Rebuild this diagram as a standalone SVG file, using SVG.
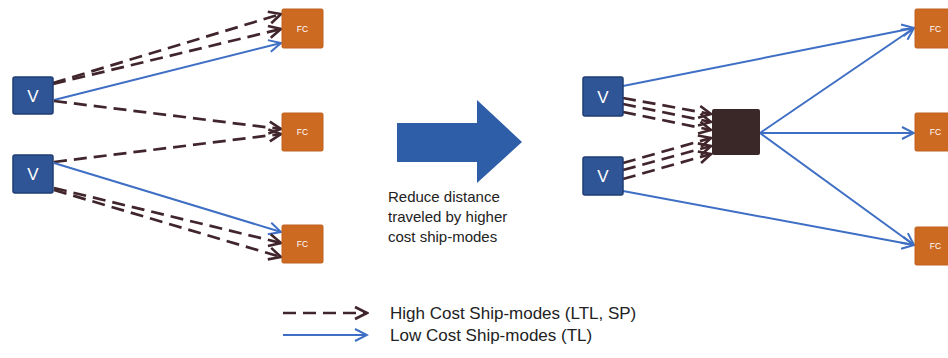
<svg xmlns="http://www.w3.org/2000/svg" width="948" height="358" viewBox="0 0 948 358">
<style>
.v rect{fill:#2f5597;stroke:#1f3c72;stroke-width:1.5}
.v text{fill:#fff;font-family:"Liberation Sans",Arial,sans-serif;font-size:17px;text-anchor:middle}
.fc rect{fill:#cc6a22;stroke:#c06020;stroke-width:1}
.fc text{fill:#fff;font-family:"Liberation Sans",Arial,sans-serif;font-size:8.5px;text-anchor:middle}
.d{stroke:#40262c;stroke-width:2.7;stroke-dasharray:13 7;fill:none;marker-end:url(#ad)}
.b{stroke:#3f6fc4;stroke-width:2;fill:none;marker-end:url(#ab)}
.t{font-family:"Liberation Sans",Arial,sans-serif;fill:#222}
</style>
<defs>
<marker id="ad" markerUnits="userSpaceOnUse" markerWidth="16" markerHeight="16" viewBox="0 0 16 16" refX="14" refY="8" orient="auto">
<path d="M2,2 L14,8 L2,14" fill="none" stroke="#40262c" stroke-width="2.6"/>
</marker>
<marker id="ab" markerUnits="userSpaceOnUse" markerWidth="16" markerHeight="16" viewBox="0 0 16 16" refX="14" refY="8" orient="auto">
<path d="M2,2 L14,8 L2,14" fill="none" stroke="#3f6fc4" stroke-width="2"/>
</marker>
</defs>
<rect width="948" height="358" fill="#fff"/>
<g id="connectors">
<line class="d" x1="53" y1="83" x2="281" y2="14"/>
<line class="d" x1="53" y1="84" x2="281" y2="29"/>
<line class="b" x1="54" y1="100" x2="281" y2="43"/>
<line class="d" x1="54" y1="101" x2="281" y2="129"/>
<line class="d" x1="54" y1="162" x2="281" y2="134"/>
<line class="b" x1="54" y1="163" x2="281" y2="232"/>
<line class="d" x1="54" y1="188" x2="281" y2="243"/>
<line class="d" x1="54" y1="190" x2="281" y2="257"/>
<line class="b" x1="623" y1="86" x2="914" y2="28"/>
<line class="b" x1="760" y1="133" x2="914" y2="28"/>
<line class="b" x1="760" y1="133" x2="914" y2="133"/>
<line class="b" x1="760" y1="133" x2="914" y2="245"/>
<line class="b" x1="623" y1="191" x2="914" y2="245"/>
<line class="d" x1="623" y1="98" x2="711" y2="114"/>
<line class="d" x1="623" y1="104" x2="711" y2="122"/>
<line class="d" x1="623" y1="112" x2="711" y2="130"/>
<line class="d" x1="623" y1="163" x2="711" y2="138"/>
<line class="d" x1="623" y1="170" x2="711" y2="146"/>
<line class="d" x1="623" y1="179" x2="711" y2="154"/>
</g>
<g id="v1" class="v"><rect x="13" y="77" width="40" height="37" rx="2"/><text x="33" y="102">V</text></g>
<g id="v2" class="v"><rect x="13" y="155" width="40" height="38" rx="2"/><text x="33" y="180">V</text></g>
<g id="fc1" class="fc"><rect x="282" y="9" width="41" height="39" rx="1.5"/><text x="302.5" y="31.5">FC</text></g>
<g id="fc2" class="fc"><rect x="282" y="113" width="41" height="38" rx="1.5"/><text x="302.5" y="135">FC</text></g>
<g id="fc3" class="fc"><rect x="282" y="225" width="41" height="38" rx="1.5"/><text x="302.5" y="247">FC</text></g>
<g id="big-arrow"><polygon points="397,123 477,123 477,100 522,142 477,183 477,162 397,162" fill="#2e5ea8"/></g>
<g id="caption"><text class="t" font-size="15" x="388" y="202">Reduce distance</text><text class="t" font-size="15" x="388" y="222">traveled by higher</text><text class="t" font-size="15" x="388" y="242">cost ship-modes</text></g>
<g id="v3" class="v"><rect x="583" y="77" width="40" height="39" rx="2"/><text x="603" y="103">V</text></g>
<g id="v4" class="v"><rect x="583" y="157" width="40" height="38" rx="2"/><text x="603" y="182">V</text></g>
<g id="hub"><rect x="712" y="109" width="48" height="46" rx="2" fill="#3a2727"/></g>
<g id="fc4" class="fc"><rect x="915" y="9" width="41" height="39" rx="1.5"/><text x="935.5" y="31.5">FC</text></g>
<g id="fc5" class="fc"><rect x="915" y="113" width="41" height="38" rx="1.5"/><text x="935.5" y="135">FC</text></g>
<g id="fc6" class="fc"><rect x="915" y="227" width="41" height="38" rx="1.5"/><text x="935.5" y="249">FC</text></g>
<g id="legend">
<line class="d" x1="283" y1="313" x2="367" y2="313"/>
<line class="b" x1="283" y1="335" x2="367" y2="335"/>
<text class="t" font-size="17" x="390" y="319">High Cost Ship-modes (LTL, SP)</text>
<text class="t" font-size="17" x="390" y="341">Low Cost Ship-modes (TL)</text>
</g>
</svg>
